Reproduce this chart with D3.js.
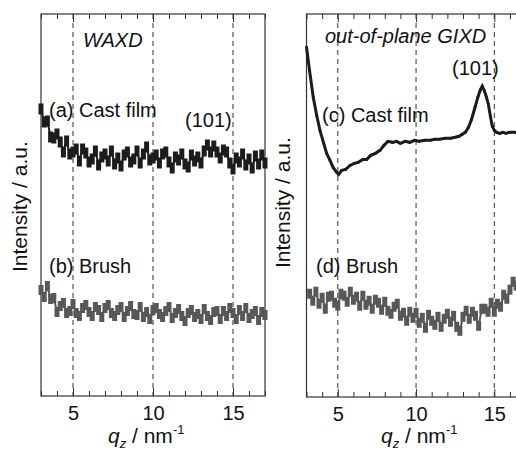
<!DOCTYPE html>
<html>
<head>
<meta charset="utf-8">
<script src="https://cdn.jsdelivr.net/npm/d3@7"></script>
<style>
    body { margin: 0; background: #fff; }
    svg { display: block; font-family: "Liberation Sans", Arial, sans-serif; }
</style>
</head>
<body>
<script>
const width = 516
const height = 453

// q grid of the scans (nm^-1)
const qMajor = [5, 10, 15]
const qMinor = [3, 4, 6, 7, 8, 9, 11, 12, 13, 14, 16, 17]
const qWide = d3.range(0, 71).map(i => +(3 + i * 0.2).toFixed(1))
const qBrushGi = d3.range(0, 70).map(i => +(3.2 + i * 0.2).toFixed(1))

// (a) WAXD cast film
const castWaxd = [
    287, 274, 275, 259, 258, 262, 254, 244, 255, 242,
    244, 247, 235, 247, 243, 234, 237, 245, 231, 239,
    242, 235, 245, 232, 238, 230, 241, 244, 234, 237,
    245, 233, 242, 249, 236, 238, 241, 233, 242, 244,
    234, 228, 239, 236, 242, 232, 229, 241, 235, 239,
    233, 245, 251, 244, 250, 244, 238, 246, 244, 233,
    227, 238, 234, 242, 231, 237, 228, 240, 232, 241, 233
]

// (b) WAXD brush
const brushWaxd = [
    106, 99, 110, 97, 98, 84, 90, 93, 83, 85,
    92, 83, 80, 88, 91, 84, 80, 89, 86, 79,
    88, 91, 83, 80, 86, 89, 79, 85, 90, 82,
    81, 89, 79, 84, 77, 86, 88, 82, 79, 85,
    89, 78, 83, 87, 80, 75, 83, 86, 79, 82,
    77, 87, 80, 76, 84, 85, 77, 85, 80, 88,
    83, 77, 86, 80, 88, 78, 82, 85, 76, 84, 81
]

// (c) GIXD cast film
const qCastGi = [
    3.0, 3.2, 3.43, 3.65, 3.86, 4.08, 4.29, 4.5, 4.7, 4.93,
    5.05, 5.25, 5.5, 5.78, 6.05, 6.3, 6.6, 6.85, 7.1, 7.4,
    7.7, 7.95, 8.2, 8.5, 8.75, 9.0, 9.3, 9.6, 9.9, 10.2,
    10.55, 10.9, 11.2, 11.5, 11.85, 12.2, 12.5, 12.75, 12.95, 13.15,
    13.35, 13.55, 13.77, 13.95, 14.1, 14.23, 14.35, 14.5, 14.62, 14.75,
    14.87, 15.0, 15.15, 15.35, 15.55, 15.75, 16.0, 16.3, 16.6, 17.0
]
const castGi = [
    349, 325, 299, 281, 266, 254, 243, 236, 229, 224,
    222, 226, 227, 231, 233, 234, 237, 237, 241, 243,
    246, 251, 255, 254, 255, 253, 255, 254, 256, 255,
    256, 256, 257, 257, 258, 258, 259, 260, 262, 264,
    269, 277, 289, 299, 306, 310, 306, 299, 292, 280,
    270, 266, 264, 263, 264, 263, 264, 264, 263, 264
]

// (d) GIXD brush
const brushGi = [
    103, 96, 105, 93, 99, 88, 100, 101, 94, 91,
    103, 101, 95, 105, 97, 100, 91, 101, 92, 96,
    88, 97, 94, 87, 95, 86, 83, 90, 93, 81,
    84, 76, 85, 79, 84, 74, 79, 69, 82, 76,
    72, 80, 70, 78, 83, 75, 81, 70, 66, 80,
    86, 78, 85, 81, 71, 88, 88, 85, 94, 85,
    93, 90, 102, 98, 107, 115, 111, 124, 124, 135
]

const svg = d3
    .select("body")
    .append("svg")
    .attr("width", width)
    .attr("height", height)

const drawPanel = p => {
    const x = d3.scaleLinear().domain([3, 17]).range([p.x0, p.x1])
    const y = d3.scaleLinear().domain([0, 382]).range([p.bottom, p.top])
    const g = svg.append("g")

    // dashed guides
    g.append("g")
        .selectAll("line")
        .data(qMajor)
        .enter()
        .append("line")
        .attr("x1", d => x(d))
        .attr("x2", d => x(d))
        .attr("y1", p.top)
        .attr("y2", p.bottom)
        .attr("stroke", "#333")
        .attr("stroke-width", 1)
        .attr("stroke-dasharray", "5,4")

    const bottomMinor = d3.axisBottom(x).tickValues(qMinor).tickSize(-5).tickFormat("")
    const bottomMajor = d3.axisBottom(x).tickValues(qMajor).tickSize(-8).tickPadding(10)
    const topMinor = d3.axisTop(x).tickValues(qMinor).tickSize(-5).tickFormat("")
    const topMajor = d3.axisTop(x).tickValues(qMajor).tickSize(-8).tickFormat("")

    ;[[bottomMinor, p.bottom], [bottomMajor, p.bottom], [topMinor, p.top], [topMajor, p.top]].forEach(([ax, ty]) => {
        const a = g.append("g").attr("transform", `translate(0,${ty})`).call(ax)
        a.select(".domain").remove()
        a.selectAll("line").attr("stroke", "#333")
        a.selectAll("text")
            .attr("fill", "#111")
            .style("font-size", "20px")
            .style("font-family", '"Liberation Sans", Arial, sans-serif')
    })

    g.append("rect")
        .attr("x", p.x0)
        .attr("y", p.top)
        .attr("width", p.x1 - p.x0)
        .attr("height", p.bottom - p.top)
        .attr("fill", "none")
        .attr("stroke", "#333")
        .attr("stroke-width", 1.2)

    p.series.forEach(s => {
        const pts = s.q.map((q, i) => [q, s.v[i]])
        g.append("path")
            .datum(pts)
            .attr("fill", "none")
            .attr("stroke", s.color)
            .attr("stroke-width", s.line)
            .attr("d", d3.line().x(d => x(d[0])).y(d => y(d[1])))
        g.append("g")
            .selectAll("rect")
            .data(pts)
            .enter()
            .append("rect")
            .attr("x", d => x(d[0]) - s.w / 2)
            .attr("y", d => y(d[1]) - s.h / 2)
            .attr("width", s.w)
            .attr("height", s.h)
            .attr("fill", s.color)
    })

    // x title
    const t = g.append("text")
        .attr("x", p.titleX)
        .attr("y", p.titleY)
        .attr("fill", "#111")
        .style("font-size", "21px")
    t.append("tspan").text("q").style("font-style", "italic")
    t.append("tspan").text("z").style("font-size", "13px").style("font-style", "italic").attr("dy", 5)
    t.append("tspan").text(" / nm").attr("dy", -5)
    t.append("tspan").text("-1").style("font-size", "13px").attr("dy", -9)

    // y title
    g.append("text")
        .attr("transform", `translate(${p.yTitleX},${p.yTitleY}) rotate(-90)`)
        .attr("fill", "#111")
        .style("font-size", "21px")
        .text("Intensity / a.u.")

    g.append("g")
        .selectAll("text")
        .data(p.notes)
        .enter()
        .append("text")
        .attr("x", d => d.x)
        .attr("y", d => d.y)
        .attr("fill", "#111")
        .style("font-size", "20px")
        .style("font-style", d => (d.italic ? "italic" : "normal"))
        .text(d => d.text)
}

drawPanel({
    x0: 41, x1: 265, top: 14, bottom: 396,
    titleX: 108, titleY: 443, yTitleX: 27, yTitleY: 272,
    series: [
        { q: qWide, v: castWaxd, color: "#1c1c1c", w: 5, h: 11, line: 2 },
        { q: qWide, v: brushWaxd, color: "#585858", w: 5, h: 10, line: 2 }
    ],
    notes: [
        { text: "WAXD", x: 83, y: 47, italic: true },
        { text: "(a) Cast film", x: 49, y: 117 },
        { text: "(101)", x: 185, y: 127 },
        { text: "(b) Brush", x: 49, y: 273 }
    ]
})

drawPanel({
    x0: 306.5, x1: 525.6, top: 14, bottom: 397,
    titleX: 381, titleY: 443, yTitleX: 290, yTitleY: 268,
    series: [
        { q: qCastGi, v: castGi, color: "#1c1c1c", w: 2.5, h: 2.5, line: 3 },
        { q: qBrushGi, v: brushGi, color: "#585858", w: 5, h: 10, line: 2 }
    ],
    notes: [
        { text: "out-of-plane GIXD", x: 325, y: 43, italic: true },
        { text: "(101)", x: 452, y: 75 },
        { text: "(c) Cast film", x: 322, y: 122 },
        { text: "(d) Brush", x: 316, y: 273 }
    ]
})
</script>
</body>
</html>
